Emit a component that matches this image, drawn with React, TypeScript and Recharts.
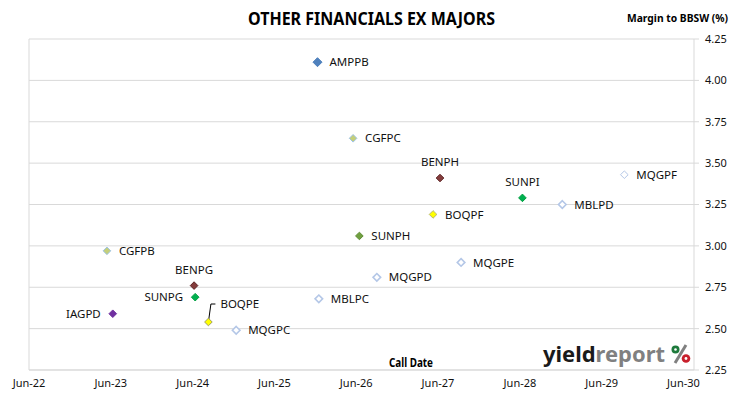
import React from 'react';
import { ScatterChart, Scatter, XAxis, YAxis, CartesianGrid, ReferenceLine } from 'recharts';

const securities = ['AMPPB', 'CGFPC', 'BENPH', 'SUNPI', 'MQGPF', 'MBLPD', 'BOQPF', 'SUNPH', 'CGFPB', 'MQGPE', 'MQGPD', 'BENPG', 'SUNPG', 'MBLPC', 'IAGPD', 'BOQPE', 'MQGPC'];
const callDates = ['2025-12-10', '2026-05-18', '2027-06-10', '2028-06-12', '2029-09-10', '2028-12-07', '2027-05-10', '2026-06-15', '2023-05-15', '2027-09-12', '2026-09-01', '2024-06-07', '2024-06-12', '2025-12-16', '2023-06-10', '2024-08-10', '2024-12-12'];
const margins = [4.11, 3.65, 3.41, 3.29, 3.43, 3.25, 3.19, 3.06, 2.97, 2.9, 2.81, 2.76, 2.69, 2.68, 2.59, 2.54, 2.49];

const xTickDates = ['2022-06-01', '2023-06-01', '2024-06-01', '2025-06-01', '2026-06-01', '2027-06-01', '2028-06-01', '2029-06-01', '2030-06-01'];
const xTickLabels = ['Jun-22', 'Jun-23', 'Jun-24', 'Jun-25', 'Jun-26', 'Jun-27', 'Jun-28', 'Jun-29', 'Jun-30'];
const yTicks = [2.25, 2.5, 2.75, 3.0, 3.25, 3.5, 3.75, 4.0, 4.25];

const ts = (d: string) => Date.parse(d + 'T00:00:00Z');

const data = securities.map((name, i) => ({ name, x: ts(callDates[i]), y: margins[i] }));
const xTicks = xTickDates.map(ts);
const xMin = xTicks[0];
const xMax = ts('2030-07-18');

// marker looks + where the label sits
const BLUE_OUTLINE = { fill: '#ffffff', stroke: '#b4c7e7', sw: 1.6 };
const looks: Record<string, { fill: string; stroke: string; sw: number; r?: number; pos: string }> = {
  AMPPB: { fill: '#4f81bd', stroke: '#4f81bd', sw: 1, r: 4.5, pos: 'right' },
  CGFPC: { fill: '#c4cf7a', stroke: '#9dc3e6', sw: 1, pos: 'right' },
  BENPH: { fill: '#843c3c', stroke: '#5e2424', sw: 1, pos: 'top' },
  SUNPI: { fill: '#00b050', stroke: '#00a040', sw: 1, pos: 'top' },
  MQGPF: { fill: '#ffffff', stroke: '#b4c7e7', sw: 1, pos: 'right' },
  MBLPD: { ...BLUE_OUTLINE, pos: 'right' },
  BOQPF: { fill: '#ffff00', stroke: '#b8b870', sw: 1, pos: 'right' },
  SUNPH: { fill: '#70a040', stroke: '#5f8c35', sw: 1, pos: 'right' },
  CGFPB: { fill: '#c4cf7a', stroke: '#9dc3e6', sw: 1, pos: 'right' },
  MQGPE: { ...BLUE_OUTLINE, pos: 'right' },
  MQGPD: { ...BLUE_OUTLINE, pos: 'right' },
  BENPG: { fill: '#843c3c', stroke: '#5e2424', sw: 1, pos: 'top' },
  SUNPG: { fill: '#00b050', stroke: '#00a040', sw: 1, pos: 'left' },
  MBLPC: { ...BLUE_OUTLINE, pos: 'right' },
  IAGPD: { fill: '#7030a0', stroke: '#7030a0', sw: 1, pos: 'left' },
  BOQPE: { fill: '#ffff00', stroke: '#a0a060', sw: 1, pos: 'leader' },
  MQGPC: { ...BLUE_OUTLINE, pos: 'right' },
};

const FONT = '"Noto Sans", "Open Sans", sans-serif';

const Marker = (props: any) => {
  const { cx, cy, payload } = props;
  const lk = looks[payload.name];
  const r = lk.r ?? 3.8;
  const d = `M${cx},${cy - r} L${cx + r},${cy} L${cx},${cy + r} L${cx - r},${cy} Z`;
  const txt = { fontFamily: FONT, fontSize: 11.5, fill: '#111' };
  let label;
  if (lk.pos === 'right') {
    label = <text x={cx + 12} y={cy} dy="0.36em" textAnchor="start" {...txt}>{payload.name}</text>;
  } else if (lk.pos === 'left') {
    label = <text x={cx - 12} y={cy} dy="0.36em" textAnchor="end" {...txt}>{payload.name}</text>;
  } else if (lk.pos === 'top') {
    label = <text x={cx} y={cy - 16} dy="0.36em" textAnchor="middle" {...txt}>{payload.name}</text>;
  } else {
    label = (
      <g>
        <polyline points={`${cx},${cy} ${cx + 2.5},${cy - 18} ${cx + 7},${cy - 18}`} fill="none" stroke="#000" strokeWidth={1} />
        <text x={cx + 12} y={cy - 18} dy="0.36em" textAnchor="start" {...txt}>{payload.name}</text>
      </g>
    );
  }
  return (
    <g>
      {label}
      <path d={d} fill={lk.fill} stroke={lk.stroke} strokeWidth={lk.sw} />
    </g>
  );
};

export default function App() {
  return (
    <div style={{ position: 'absolute', left: 0, top: 0, width: 730, height: 399, background: '#fff' }}>
      <ScatterChart width={730} height={399} margin={{ top: 39, right: 0, bottom: 0, left: 29 }}>
        <CartesianGrid vertical={false} stroke="#d9d9d9" />
        <XAxis
          type="number"
          dataKey="x"
          domain={[xMin, xMax]}
          ticks={xTicks}
          tickFormatter={(v: number) => xTickLabels[xTicks.indexOf(v)]}
          height={29}
          tickSize={0}
          tickMargin={9}
          axisLine={{ stroke: '#d9d9d9' }}
          tick={{ fontFamily: FONT, fontSize: 11, fill: '#111' }}
          allowDataOverflow
        />
        <YAxis
          type="number"
          dataKey="y"
          orientation="right"
          domain={[2.25, 4.25]}
          ticks={yTicks}
          tickFormatter={(v: number) => v.toFixed(2)}
          width={36}
          tickSize={5}
          tickMargin={6}
          axisLine={{ stroke: '#d9d9d9' }}
          tickLine={{ stroke: '#d9d9d9' }}
          tick={{ fontFamily: FONT, fontSize: 11, fill: '#111', textAnchor: 'start' }}
        />
        <ReferenceLine x={xMin} stroke="#d9d9d9" />
        <Scatter data={data} shape={Marker} isAnimationActive={false} />
      </ScatterChart>
      <svg width={730} height={399} style={{ position: 'absolute', left: 0, top: 0, pointerEvents: 'none' }}>
        <text x={248} y={25} textLength={247} lengthAdjust="spacingAndGlyphs" fontFamily={FONT} fontWeight="bold" fontSize={17} fill="#000">
          OTHER FINANCIALS EX MAJORS
        </text>
        <text x={627} y={22} textLength={101} lengthAdjust="spacingAndGlyphs" fontFamily={FONT} fontWeight="bold" fontSize={10.5} fill="#000">
          Margin to BBSW (%)
        </text>
        <text x={389} y={367} textLength={44} lengthAdjust="spacingAndGlyphs" fontFamily={FONT} fontWeight="bold" fontSize={11.5} fill="#000">
          Call Date
        </text>
        <text x={543} y={362} textLength={122} lengthAdjust="spacingAndGlyphs" fontFamily={FONT} fontWeight="bold" fontSize={22}>
          <tspan fill="#1a1a1a">yield</tspan>
          <tspan fill="#808080">report</tspan>
        </text>
        <line x1={686} y1={345} x2={675} y2={363} stroke="#808080" strokeWidth={3} />
        <circle cx={675.5} cy={349.5} r={4} fill="#1e7a3c" />
        <circle cx={675.5} cy={349.5} r={1.3} fill="#fff" />
        <circle cx={686} cy={358.5} r={4.3} fill="#c8202c" />
        <circle cx={686} cy={358.5} r={1.4} fill="#fff" />
      </svg>
    </div>
  );
}
